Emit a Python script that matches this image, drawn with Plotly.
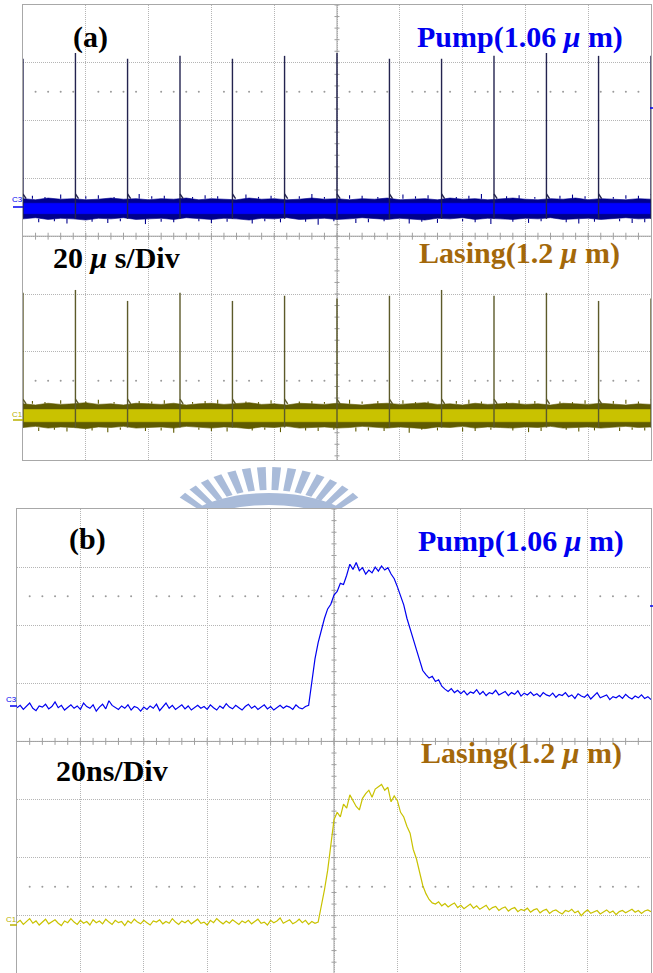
import numpy as np
import plotly.graph_objects as go

W, H = 653, 973

# ---------------- data (scope divisions) ----------------
# panel (a): 20 us/div, time in microseconds
A_SPIKE_T = [0, 16.7, 33.3, 50.0, 66.7, 83.3, 100.0, 116.7, 133.3, 150.0, 166.7, 183.3, 200.0]
A_PUMP_PEAK = [3.07, 3.17, 3.07, 3.12, 3.07, 3.12, 3.17, 3.07, 3.07, 3.12, 3.17, 3.12, 3.12]
A_LASE_PEAK = [-0.98, -0.93, -1.12, -0.98, -1.12, -1.03, -1.08, -1.03, -0.93, -1.03, -0.98, -1.12, -1.08]

A_PUMP_HI = [0.65, 0.63, 0.66, 0.64, 0.65, 0.63, 0.64, 0.66, 0.64, 0.65,
             0.63, 0.65, 0.64, 0.66, 0.63, 0.65, 0.64, 0.63, 0.66, 0.64,
             0.65, 0.63, 0.64, 0.66, 0.64, 0.65, 0.63, 0.65, 0.64, 0.66,
             0.63, 0.64, 0.65, 0.63, 0.66, 0.64, 0.65, 0.63, 0.64, 0.66,
             0.64, 0.63, 0.65, 0.64, 0.66, 0.63, 0.65, 0.64, 0.63, 0.65, 0.64]
A_PUMP_LO = [0.30, 0.32, 0.29, 0.31, 0.30, 0.28, 0.31, 0.30, 0.32, 0.29,
             0.30, 0.31, 0.29, 0.32, 0.30, 0.29, 0.31, 0.30, 0.28, 0.31,
             0.30, 0.32, 0.29, 0.30, 0.31, 0.29, 0.30, 0.32, 0.30, 0.29,
             0.31, 0.30, 0.28, 0.31, 0.30, 0.32, 0.29, 0.31, 0.30, 0.29,
             0.31, 0.30, 0.32, 0.29, 0.30, 0.31, 0.29, 0.30, 0.32, 0.30, 0.31]
A_PUMP_CORE = [0.39, 0.57]

A_LASE_HI = [-2.90, -2.92, -2.89, -2.91, -2.90, -2.88, -2.91, -2.90, -2.92, -2.89,
             -2.90, -2.91, -2.89, -2.92, -2.90, -2.89, -2.91, -2.90, -2.88, -2.91,
             -2.90, -2.92, -2.89, -2.90, -2.91, -2.89, -2.90, -2.92, -2.90, -2.89,
             -2.91, -2.90, -2.88, -2.91, -2.90, -2.92, -2.89, -2.91, -2.90, -2.89,
             -2.91, -2.90, -2.92, -2.89, -2.90, -2.91, -2.89, -2.90, -2.92, -2.90, -2.91]
A_LASE_LO = [-3.31, -3.29, -3.32, -3.30, -3.31, -3.33, -3.30, -3.31, -3.29, -3.32,
             -3.31, -3.30, -3.32, -3.29, -3.31, -3.32, -3.30, -3.31, -3.33, -3.30,
             -3.31, -3.29, -3.32, -3.31, -3.30, -3.32, -3.31, -3.29, -3.31, -3.32,
             -3.30, -3.31, -3.33, -3.30, -3.31, -3.29, -3.32, -3.30, -3.31, -3.32,
             -3.30, -3.31, -3.29, -3.32, -3.31, -3.30, -3.32, -3.31, -3.29, -3.31, -3.30]
A_LASE_CORE = [-3.21, -3.00]

# noise glitches sticking out of the dense bands
A_TICK_UP_T = [3, 7, 12, 20, 24, 29, 37, 41, 45, 54, 58, 62, 71, 75, 79, 88, 92, 96,
               104, 108, 113, 121, 125, 129, 138, 142, 146, 154, 158, 163, 171, 175, 179, 188, 192, 196]
A_TICK_DN_T = [5, 10, 14, 22, 27, 31, 39, 44, 48, 56, 60, 65, 73, 77, 82, 90, 94, 99,
               106, 110, 115, 123, 127, 132, 140, 144, 149, 156, 161, 165, 173, 177, 182, 190, 194, 198]
A_PUMP_UP = [0.70, 0.68, 0.72, 0.69, 0.71, 0.68, 0.73, 0.69, 0.70, 0.68, 0.71, 0.69,
             0.72, 0.68, 0.70, 0.69, 0.73, 0.68, 0.71, 0.70, 0.68, 0.72, 0.69, 0.71,
             0.68, 0.70, 0.73, 0.69, 0.71, 0.68, 0.70, 0.72, 0.69, 0.68, 0.71, 0.70]
A_PUMP_DN = [0.24, 0.26, 0.22, 0.25, 0.23, 0.26, 0.21, 0.25, 0.24, 0.26, 0.23, 0.25,
             0.22, 0.26, 0.24, 0.25, 0.20, 0.26, 0.23, 0.24, 0.26, 0.22, 0.25, 0.23,
             0.26, 0.24, 0.21, 0.25, 0.23, 0.26, 0.24, 0.22, 0.25, 0.26, 0.23, 0.24]
A_LASE_UP = [-2.85, -2.87, -2.84, -2.86, -2.83, -2.87, -2.85, -2.86, -2.84, -2.87, -2.85, -2.83,
             -2.86, -2.87, -2.84, -2.86, -2.85, -2.87, -2.83, -2.86, -2.85, -2.84, -2.87, -2.86,
             -2.85, -2.83, -2.86, -2.87, -2.84, -2.85, -2.86, -2.87, -2.84, -2.85, -2.83, -2.86]
A_LASE_DN = [-3.37, -3.35, -3.38, -3.36, -3.39, -3.35, -3.37, -3.36, -3.40, -3.35, -3.37, -3.38,
             -3.36, -3.35, -3.39, -3.36, -3.37, -3.35, -3.38, -3.36, -3.37, -3.40, -3.35, -3.36,
             -3.38, -3.37, -3.35, -3.36, -3.39, -3.37, -3.35, -3.38, -3.36, -3.37, -3.35, -3.36]

# panel (b): 20 ns/div, one sample per ns (0..200 ns)
B_PUMP = [0.58, 0.62, 0.55, 0.60, 0.66, 0.57, 0.53, 0.61, 0.59, 0.64,
          0.56, 0.60, 0.68, 0.58, 0.62, 0.54, 0.59, 0.63, 0.57, 0.61,
          0.55, 0.66, 0.60, 0.57, 0.63, 0.52, 0.59, 0.64, 0.56, 0.70,
          0.62, 0.58, 0.55, 0.61, 0.57, 0.63, 0.54, 0.60, 0.58, 0.52,
          0.59, 0.55, 0.61, 0.57, 0.64, 0.53, 0.60, 0.66, 0.57, 0.62,
          0.55, 0.59, 0.63, 0.56, 0.61, 0.54, 0.58, 0.62, 0.57, 0.60,
          0.55, 0.63, 0.58, 0.54, 0.61, 0.57, 0.65, 0.59, 0.56, 0.62,
          0.58, 0.54, 0.60, 0.64, 0.57, 0.61, 0.55, 0.59, 0.63, 0.56,
          0.60, 0.54, 0.58, 0.62, 0.57, 0.61, 0.59, 0.55, 0.63, 0.58,
          0.56, 0.60,
          0.62, 1.05, 1.42, 1.70, 1.93, 2.12, 2.28, 2.36, 2.52, 2.58,
          2.72, 2.70, 2.86, 3.05, 2.96, 3.08, 2.94, 2.99, 2.88, 2.95,
          2.90, 3.00, 2.93, 3.02, 2.95, 2.99, 2.88, 2.80, 2.66, 2.52,
          2.35, 2.12, 1.96, 1.76, 1.58, 1.38, 1.22, 1.15, 1.09, 1.12,
          1.03, 1.06, 0.95, 0.90,
          0.86, 0.91, 0.84, 0.88, 0.82, 0.87, 0.80, 0.85, 0.83, 0.89,
          0.81, 0.86, 0.79, 0.84, 0.82, 0.88, 0.80, 0.83, 0.86, 0.79,
          0.84, 0.81, 0.87, 0.78, 0.83, 0.80, 0.85, 0.79, 0.82, 0.77,
          0.84, 0.80, 0.78, 0.83, 0.76, 0.81, 0.79, 0.84, 0.77, 0.80,
          0.74, 0.82, 0.78, 0.76, 0.81, 0.73, 0.79, 0.84, 0.75, 0.78,
          0.80, 0.72, 0.77, 0.75, 0.79, 0.74, 0.81, 0.76, 0.73, 0.78,
          0.75, 0.80, 0.74, 0.77, 0.72]
B_LASE = [-3.12, -3.08, -3.15, -3.10, -3.05, -3.13, -3.09, -3.16, -3.11, -3.06,
          -3.14, -3.10, -3.07, -3.13, -3.17, -3.09, -3.12, -3.05, -3.11, -3.15,
          -3.08, -3.13, -3.10, -3.16, -3.07, -3.12, -3.09, -3.14, -3.06, -3.11,
          -3.15, -3.08, -3.12, -3.10, -3.17, -3.09, -3.13, -3.06, -3.11, -3.14,
          -3.08, -3.12, -3.16, -3.09, -3.11, -3.07, -3.14, -3.10, -3.13, -3.05,
          -3.11, -3.15, -3.09, -3.12, -3.08, -3.14, -3.10, -3.06, -3.13, -3.11,
          -3.16, -3.08, -3.12, -3.05, -3.10, -3.14, -3.09, -3.13, -3.07, -3.11,
          -3.15, -3.09, -3.12, -3.08, -3.14, -3.10, -3.06, -3.13, -3.11, -3.16,
          -3.08, -3.12, -3.09, -3.04, -3.13, -3.10, -3.07, -3.14, -3.11, -3.06,
          -3.12, -3.08, -3.15, -3.10, -3.13, -3.11,
          -2.85, -2.55, -2.22, -1.75, -1.35, -1.22, -1.30, -1.08, -1.15, -0.92,
          -1.02, -1.12, -1.18, -0.98, -0.90, -0.84, -0.96, -0.82, -0.78, -0.74,
          -0.84, -0.79, -1.04, -0.94, -1.02, -1.22, -1.30, -1.46, -1.58, -1.86,
          -2.02, -2.28, -2.48, -2.62, -2.72, -2.78,
          -2.80, -2.76, -2.83, -2.79, -2.85, -2.81, -2.78, -2.86, -2.82, -2.88,
          -2.84, -2.80, -2.87, -2.83, -2.89, -2.85, -2.82, -2.90, -2.86, -2.84,
          -2.91, -2.87, -2.85, -2.92, -2.88, -2.86, -2.93, -2.89, -2.91, -2.87,
          -2.94, -2.90, -2.88, -2.95, -2.91, -2.89, -2.96, -2.92, -2.90, -2.94,
          -2.97, -2.91, -2.93, -2.89, -2.95, -2.92, -3.00, -2.94, -2.90, -2.96,
          -2.93, -2.91, -2.97, -2.94, -2.90, -2.95, -2.92, -2.98, -2.93, -2.91,
          -2.95, -2.92, -2.89, -2.94, -2.91, -2.96, -2.92, -2.90, -2.93]
B_T_STEP = 1.0

LABEL_PUMP = "<b>Pump(1.06 <i>μ</i> m)</b>"
LABEL_LASE = "<b>Lasing(1.2 <i>μ</i> m)</b>"
LABEL_A, LABEL_B = "<b>(a)</b>", "<b>(b)</b>"
LABEL_DIV_A, LABEL_DIV_B = "<b>20 <i>μ</i> s/Div</b>", "<b>20ns/Div</b>"

# ---------------- styles ----------------
BLUE = "#0000f0"
NAVY = "#00008c"
SPIKE_BLUE = "#23234f"
YEL = "#c9c200"
OLIVE = "#5f5b00"
SPIKE_OLIVE = "#5c5a2a"
TXT_LASE = "#a3680a"
SERIF = "Liberation Serif, Times New Roman, serif"
GRIDC = "#b5b5b5"
FRAMEC = "#a8a8a8"


def px(x):
    return x / W


def py(y):
    return 1 - y / H


fig = go.Figure()


def band(xs, hi, lo, color, xa, ya):
    xs = list(xs)
    fig.add_trace(go.Scatter(x=xs + xs[::-1], y=list(hi) + list(lo)[::-1], fill="toself",
                             fillcolor=color, line=dict(width=0.6, color=color), mode="lines",
                             hoverinfo="skip", showlegend=False, xaxis=xa, yaxis=ya))


def glitches(t_up, v_up, t_dn, v_dn, base_hi, base_lo, color, xa, ya):
    xs, ys = [], []
    for t, v in zip(t_up, v_up):
        xs += [t, t, None]
        ys += [base_hi, v, None]
    for t, v in zip(t_dn, v_dn):
        xs += [t, t, None]
        ys += [base_lo, v, None]
    fig.add_trace(go.Scatter(x=xs, y=ys, mode="lines", line=dict(color=color, width=1.1),
                             hoverinfo="skip", showlegend=False, xaxis=xa, yaxis=ya))


def spikes(ts, peaks, base_lo, base_hi, color, xa, ya):
    xs, ys = [], []
    for t, p in zip(ts, peaks):
        xs += [t, t, None, t, t + 1.0, None]
        ys += [base_lo, p, None, base_hi + 0.08, base_hi, None]
    fig.add_trace(go.Scatter(x=xs, y=ys, mode="lines", line=dict(color=color, width=1.4),
                             hoverinfo="skip", showlegend=False, xaxis=xa, yaxis=ya))


def crosshair(xa, ya, ymin):
    xs, ys = [], []
    for k in range(1, 50):
        t = 4 * k
        xs += [t, t, None]
        ys += [-0.06, 0.06, None]
    for v in np.arange(-4, 4.001, 0.2):
        if v < ymin:
            continue
        xs += [99.2, 100.8, None]
        ys += [v, v, None]
    xs += [0, 200, None, 100, 100]
    ys += [0, 0, None, ymin, 4]
    fig.add_trace(go.Scatter(x=xs, y=ys, mode="lines", line=dict(color="#a0a0a0", width=1),
                             hoverinfo="skip", showlegend=False, xaxis=xa, yaxis=ya))
    dx = [4 * k for k in range(1, 50) if k % 5] * 2
    dy = [2.5] * (len(dx) // 2) + [-2.5] * (len(dx) // 2)
    fig.add_trace(go.Scatter(x=dx, y=dy, mode="markers", marker=dict(color="#9a9a9a", size=2),
                             hoverinfo="skip", showlegend=False, xaxis=xa, yaxis=ya))


A_RANGE = [-3.872, 4]
B_RANGE = [-3.986, 4]

crosshair("x", "y", A_RANGE[0])
crosshair("x2", "y2", B_RANGE[0])

# panel (a)
tA = np.linspace(0, 200, len(A_PUMP_HI))
glitches(A_TICK_UP_T, A_PUMP_UP, A_TICK_DN_T, A_PUMP_DN, A_PUMP_HI[0], A_PUMP_LO[0], NAVY, "x", "y")
band(tA, A_PUMP_HI, A_PUMP_LO, NAVY, "x", "y")
band([0, 200], [A_PUMP_CORE[1]] * 2, [A_PUMP_CORE[0]] * 2, "#0000ff", "x", "y")
spikes(A_SPIKE_T, A_PUMP_PEAK, A_PUMP_LO[0], A_PUMP_HI[0], SPIKE_BLUE, "x", "y")

tL = np.linspace(0, 200, len(A_LASE_HI))
glitches(A_TICK_UP_T, A_LASE_UP, A_TICK_DN_T, A_LASE_DN, A_LASE_HI[0], A_LASE_LO[0], OLIVE, "x", "y")
band(tL, A_LASE_HI, A_LASE_LO, OLIVE, "x", "y")
band([0, 200], [A_LASE_CORE[1]] * 2, [A_LASE_CORE[0]] * 2, YEL, "x", "y")
spikes(A_SPIKE_T, A_LASE_PEAK, A_LASE_LO[0], A_LASE_HI[0], SPIKE_OLIVE, "x", "y")

# panel (b)
tB = np.arange(len(B_PUMP)) * B_T_STEP
fig.add_trace(go.Scatter(x=tB, y=B_PUMP, mode="lines", line=dict(color=BLUE, width=1.2),
                         hoverinfo="skip", showlegend=False, xaxis="x2", yaxis="y2"))
tB2 = np.arange(len(B_LASE)) * B_T_STEP
fig.add_trace(go.Scatter(x=tB2, y=B_LASE, mode="lines", line=dict(color=YEL, width=1.2),
                         hoverinfo="skip", showlegend=False, xaxis="x2", yaxis="y2"))

# ---------------- axes ----------------
ax = dict(showgrid=True, gridcolor=GRIDC, griddash="1px,1px", gridwidth=1, zeroline=False,
          showticklabels=False, ticks="", showline=True, mirror=True, linecolor=FRAMEC,
          linewidth=1, fixedrange=True)
fig.update_layout(
    width=W, height=H, margin=dict(l=0, r=0, t=0, b=0),
    paper_bgcolor="white", plot_bgcolor="white", showlegend=False,
    xaxis=dict(domain=[px(23), px(651)], range=[0, 200], dtick=20, tick0=0, anchor="y", **ax),
    yaxis=dict(domain=[py(460), py(5)], range=A_RANGE, dtick=1, tick0=0, anchor="x", **ax),
    xaxis2=dict(domain=[px(17), px(651)], range=[0, 200], dtick=20, tick0=0, anchor="y2", **ax),
    yaxis2=dict(domain=[0, py(509)], range=B_RANGE, dtick=1, tick0=0, anchor="x2", **ax),
)

# ---------------- watermark (behind panel b) ----------------
shapes = []
WM = "#a9bbd9"
cx, cy = 269, 540


def ell(a, b, th):
    r = np.radians(th)
    return cx + a * np.sin(r), cy - b * np.cos(r)


def path(pts):
    return "M " + " L ".join(f"{px(x):.5f},{py(y):.5f}" for x, y in pts) + " Z"


for th in range(-52, 53, 8):
    pts = [ell(84, 50, th - 2.3), ell(110, 73, th - 2.3), ell(110, 73, th + 2.3), ell(84, 50, th + 2.3)]
    shapes.append(dict(type="path", path=path(pts), xref="paper", yref="paper",
                       fillcolor=WM, line=dict(width=0), layer="below"))
arc = [ell(98, 47, th) for th in range(-70, 71, 5)] + [ell(85, 35, th) for th in range(70, -71, -5)]
shapes.append(dict(type="path", path=path(arc), xref="paper", yref="paper",
                   fillcolor=WM, line=dict(width=0), layer="below"))
shapes.append(dict(type="rect", xref="paper", yref="paper", x0=px(17), x1=px(651), y0=0, y1=py(509),
                   fillcolor="white", line=dict(width=0), layer="below"))

# channel markers
for (x0, x1, yy, col) in [(13, 23, 207, BLUE), (13, 23, 420, "#b8b000"),
                          (10, 17, 706, BLUE), (10, 17, 925, "#b8b000"),
                          (650, 653, 108, BLUE), (650, 653, 606, BLUE)]:
    shapes.append(dict(type="line", xref="paper", yref="paper", x0=px(x0), x1=px(x1),
                       y0=py(yy), y1=py(yy), line=dict(color=col, width=1.5)))
fig.update_layout(shapes=shapes)

ann = []


def label(text, x, y, size, color, family=SERIF):
    ann.append(dict(text=text, x=px(x), y=py(y), xref="paper", yref="paper", showarrow=False,
                    xanchor="center", yanchor="middle", font=dict(family=family, size=size, color=color)))


label(LABEL_A, 90, 37, 30, "black")
label(LABEL_PUMP, 520, 37, 30, BLUE)
label(LABEL_DIV_A, 116, 257, 30, "black")
label(LABEL_LASE, 519, 253, 30, TXT_LASE)
label(LABEL_B, 87, 539, 30, "black")
label(LABEL_PUMP, 521, 541, 30, BLUE)
label(LABEL_DIV_B, 112, 770, 30, "black")
label(LABEL_LASE, 521, 753, 30, TXT_LASE)
for t, x, y, c in [("C3", 17, 200, BLUE), ("C1", 17, 414, "#b8b000"),
                   ("C3", 11, 699, BLUE), ("C1", 11, 919, "#b8b000")]:
    label(t, x, y, 8, c, family="Liberation Sans, Arial, sans-serif")
fig.update_layout(annotations=ann)

fig.write_html("out.html", config={"displayModeBar": False},
               post_script="document.body.style.margin='0';document.body.style.overflow='hidden';")
